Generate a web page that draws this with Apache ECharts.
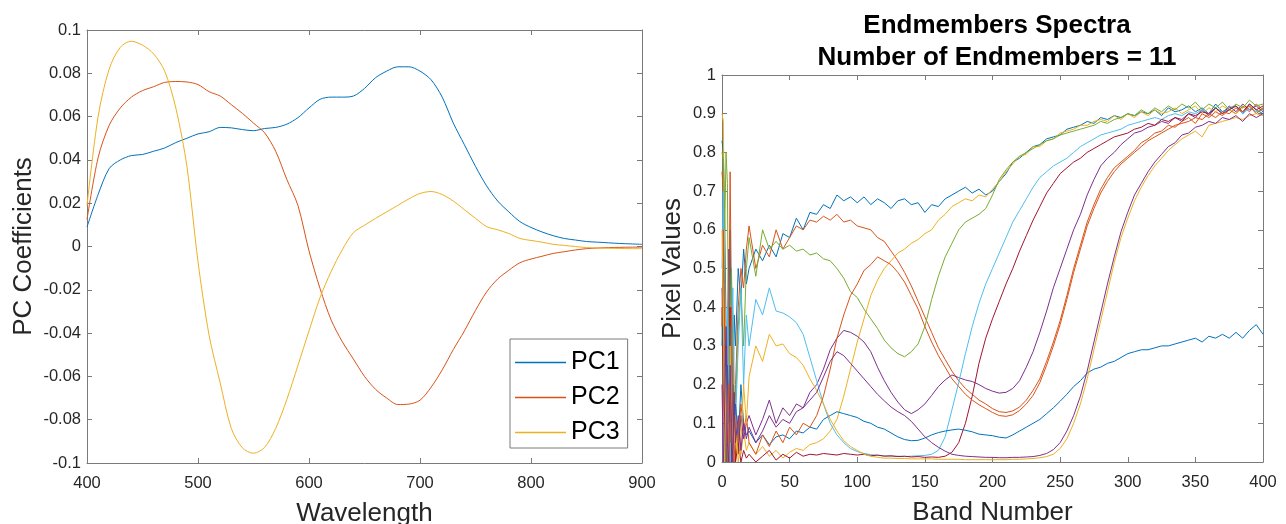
<!DOCTYPE html>
<html><head><meta charset="utf-8">
<script src="https://cdn.jsdelivr.net/npm/echarts@6/dist/echarts.min.js"></script>
<style>html,body{margin:0;padding:0;background:#fff}#c{width:1286px;height:524px}</style>
</head><body><div id="c"></div><script>
// ---------- Left panel: PC coefficients ----------
const wavelengths = [400,410,420,430,440,450,460,470,480,490,500,510,520,530,540,550,560,570,580,590,600,610,620,630,640,650,660,670,680,690,700,710,720,730,740,750,760,770,780,790,800,810,820,830,840,850,860,870,880,890,900];
const pc1 = [0.009,0.024,0.036,0.040,0.042,0.0425,0.044,0.0455,0.048,0.050,0.052,0.053,0.055,0.0548,0.054,0.0535,0.0545,0.055,0.0565,0.0595,0.064,0.068,0.069,0.069,0.0695,0.073,0.078,0.081,0.083,0.083,0.081,0.077,0.069,0.057,0.047,0.037,0.028,0.021,0.016,0.0115,0.0088,0.0067,0.005,0.0037,0.003,0.0023,0.002,0.0017,0.0014,0.0012,0.001];
const pc2 = [0.0125,0.041,0.056,0.064,0.069,0.072,0.0738,0.0758,0.0762,0.076,0.0748,0.0715,0.0695,0.0655,0.0615,0.057,0.0525,0.044,0.031,0.019,-0.002,-0.0195,-0.034,-0.044,-0.052,-0.06,-0.066,-0.070,-0.073,-0.0728,-0.071,-0.065,-0.057,-0.0476,-0.039,-0.0295,-0.021,-0.015,-0.011,-0.0075,-0.0058,-0.0045,-0.0032,-0.0024,-0.0016,-0.001,-0.0007,-0.0005,-0.0004,-0.0003,-0.0003];
const pc3 = [0.019,0.060,0.082,0.092,0.0948,0.093,0.089,0.081,0.064,0.037,-0.007,-0.041,-0.063,-0.084,-0.093,-0.0955,-0.0928,-0.084,-0.0707,-0.055,-0.039,-0.0235,-0.0115,-0.0015,0.0064,0.0098,0.013,0.016,0.019,0.022,0.0245,0.0254,0.024,0.021,0.017,0.013,0.0092,0.0077,0.006,0.0037,0.0028,0.002,0.001,0.0005,0,-0.0005,-0.0007,-0.0008,-0.0009,-0.001,-0.001];
const pcNames = ['PC1','PC2','PC3'];

// ---------- Right panel: endmember spectra ----------
const bands = [0,1,2,3,4,5,6,7,8,9,10,12,14,16,18,
  20,25,30,35,40,45,50,55,60,65,70,75,80,85,90,95,100,105,110,115,120,125,130,135,140,145,150,155,160,165,
  170,175,180,185,190,195,200,205,210,215,220,225,230,235,240,245,250,255,260,265,270,275,280,285,290,295,300,305,310,315,
  320,325,330,335,340,345,350,355,360,365,370,375,380,385,390,395,400];
const em1 = [0.83,0.8,0.62,0.35,0.15,0.45,0.6,0.25,0.1,0.38,0.3,0.5,0.42,0.55,0.46,
  0.50,0.55,0.52,0.56,0.53,0.59,0.58,0.63,0.60,0.645,
  0.64,0.665,0.655,0.69,0.675,0.685,0.67,0.685,0.665,0.68,
  0.67,0.655,0.675,0.68,0.665,0.67,0.645,0.665,0.66,0.68,
  0.69,0.70,0.71,0.695,0.705,0.69,0.70,0.725,0.745,0.775,
  0.785,0.80,0.815,0.82,0.835,0.84,0.845,0.86,0.865,0.87,
  0.88,0.875,0.89,0.885,0.895,0.89,0.90,0.895,0.905,0.90,
  0.91,0.895,0.915,0.905,0.91,0.92,0.905,0.915,0.9,0.925,
  0.905,0.915,0.92,0.9,0.925,0.91,0.9];
const em2 = [0.75,0.7,0.45,0.2,0.05,0.3,0.75,0.4,0.1,0.0,0.2,0.4,0.5,0.45,0.55,
  0.61,0.5,0.56,0.53,0.6,0.55,0.58,0.61,0.6,0.625,
  0.62,0.635,0.625,0.64,0.62,0.625,0.61,0.605,0.6,0.58,
  0.57,0.545,0.52,0.49,0.455,0.415,0.375,0.335,0.295,0.265,
  0.235,0.21,0.19,0.175,0.16,0.15,0.138,0.13,0.128,0.132,
  0.142,0.16,0.185,0.215,0.26,0.31,0.365,0.43,0.5,0.56,
  0.62,0.665,0.705,0.735,0.76,0.775,0.79,0.805,0.825,0.835,
  0.85,0.855,0.87,0.865,0.88,0.89,0.875,0.9,0.89,0.905,
  0.895,0.91,0.9,0.92,0.905,0.925,0.91];
const em3 = [0.9,0.88,0.5,0.1,0.0,0.05,0.2,0.0,0.15,0.05,0.0,0.1,0.02,0.08,0.03,
  0.05,0.02,0.04,0.015,0.03,0.01,0.025,0.035,0.03,0.045,
  0.05,0.06,0.08,0.11,0.17,0.24,0.31,0.37,0.43,0.47,
  0.5,0.52,0.54,0.55,0.565,0.575,0.59,0.6,0.625,0.64,
  0.66,0.67,0.68,0.675,0.69,0.685,0.705,0.725,0.75,0.77,
  0.79,0.795,0.815,0.815,0.83,0.835,0.85,0.855,0.86,0.87,
  0.87,0.88,0.885,0.88,0.895,0.885,0.9,0.89,0.905,0.895,
  0.91,0.9,0.905,0.915,0.9,0.91,0.92,0.9,0.915,0.905,
  0.92,0.91,0.9,0.915,0.92,0.905,0.915];
const em4 = [0.45,0.3,0.1,0.0,0.3,0.55,0.1,0.0,0.2,0.05,0.15,0.02,0.12,0.06,0.1,
  0.12,0.07,0.11,0.16,0.1,0.14,0.12,0.15,0.14,0.18,
  0.2,0.24,0.29,0.32,0.34,0.335,0.325,0.31,0.285,0.245,
  0.21,0.18,0.155,0.135,0.125,0.135,0.15,0.172,0.195,0.212,
  0.225,0.218,0.212,0.208,0.2,0.19,0.183,0.178,0.18,0.19,
  0.21,0.245,0.285,0.335,0.39,0.45,0.5,0.55,0.6,0.64,
  0.69,0.73,0.765,0.785,0.8,0.82,0.835,0.85,0.855,0.865,
  0.87,0.88,0.875,0.89,0.88,0.9,0.89,0.91,0.895,0.915,
  0.9,0.92,0.905,0.925,0.91,0.92,0.905];
const em5 = [0.8,0.78,0.6,0.8,0.72,0.2,0.0,0.5,0.3,0.05,0.15,0.35,0.45,0.3,0.5,
  0.58,0.48,0.6,0.55,0.57,0.55,0.56,0.545,0.55,0.535,
  0.54,0.525,0.52,0.5,0.475,0.44,0.425,0.395,0.37,0.345,
  0.315,0.295,0.28,0.272,0.285,0.305,0.35,0.42,0.48,0.53,
  0.565,0.6,0.62,0.63,0.64,0.655,0.69,0.73,0.755,0.775,
  0.79,0.8,0.81,0.82,0.83,0.835,0.845,0.85,0.855,0.86,
  0.865,0.87,0.88,0.875,0.885,0.89,0.9,0.895,0.91,0.9,
  0.915,0.905,0.92,0.91,0.925,0.915,0.93,0.91,0.925,0.915,
  0.93,0.91,0.925,0.915,0.935,0.92,0.925];
const em6 = [0.5,0.7,0.3,0.05,0.4,0.15,0.0,0.3,0.45,0.2,0.1,0.3,0.45,0.2,0.38,
  0.3,0.42,0.38,0.45,0.39,0.385,0.375,0.36,0.33,0.27,
  0.21,0.15,0.1,0.07,0.05,0.035,0.027,0.022,0.019,0.017,
  0.016,0.015,0.015,0.014,0.015,0.016,0.017,0.02,0.03,0.065,
  0.135,0.205,0.28,0.35,0.41,0.46,0.5,0.54,0.58,0.62,
  0.65,0.68,0.71,0.735,0.75,0.765,0.775,0.785,0.8,0.815,
  0.825,0.835,0.845,0.85,0.855,0.86,0.87,0.875,0.88,0.885,
  0.89,0.885,0.895,0.9,0.895,0.905,0.9,0.91,0.9,0.915,
  0.905,0.91,0.92,0.9,0.915,0.905,0.91];
const em7 = [0.4,0.2,0.0,0.3,0.1,0.0,0.4,0.05,0.0,0.15,0.0,0.05,0.0,0.03,0.01,
  0.02,0.0,0.015,0.03,0.005,0.02,0.01,0.025,0.015,0.02,
  0.018,0.022,0.02,0.018,0.022,0.02,0.018,0.02,0.016,0.018,
  0.015,0.016,0.014,0.015,0.013,0.014,0.012,0.013,0.012,0.015,
  0.025,0.05,0.1,0.17,0.255,0.32,0.37,0.415,0.46,0.5,
  0.545,0.585,0.625,0.66,0.695,0.72,0.745,0.76,0.775,0.785,
  0.8,0.81,0.82,0.83,0.84,0.845,0.85,0.86,0.865,0.875,
  0.87,0.885,0.88,0.89,0.885,0.9,0.895,0.905,0.9,0.915,
  0.9,0.91,0.92,0.905,0.925,0.91,0.92];
const em8 = [0.3,0.55,0.2,0.0,0.25,0.1,0.35,0.05,0.2,0.1,0.15,0.05,0.2,0.1,0.07,
  0.08,0.05,0.07,0.045,0.065,0.07,0.06,0.08,0.075,0.09,
  0.085,0.11,0.12,0.13,0.125,0.12,0.115,0.105,0.1,0.09,
  0.085,0.075,0.065,0.058,0.055,0.056,0.062,0.07,0.076,0.08,
  0.083,0.085,0.082,0.078,0.072,0.07,0.068,0.064,0.062,0.07,
  0.08,0.09,0.1,0.11,0.125,0.14,0.157,0.175,0.195,0.21,
  0.23,0.24,0.245,0.255,0.26,0.27,0.28,0.285,0.29,0.29,
  0.295,0.3,0.3,0.305,0.31,0.315,0.32,0.31,0.325,0.32,
  0.33,0.32,0.335,0.32,0.34,0.355,0.33];
const em9 = [0.35,0.6,0.3,0.1,0.0,0.2,0.05,0.4,0.15,0.02,0.1,0.05,0.15,0.08,0.12,
  0.05,0.02,0.07,0.04,0.08,0.05,0.09,0.07,0.1,0.09,
  0.12,0.17,0.24,0.32,0.38,0.43,0.46,0.495,0.51,0.53,
  0.52,0.51,0.49,0.465,0.43,0.395,0.35,0.31,0.275,0.245,
  0.215,0.195,0.175,0.16,0.148,0.138,0.128,0.12,0.118,0.122,
  0.133,0.15,0.172,0.205,0.25,0.3,0.355,0.42,0.49,0.55,
  0.61,0.655,0.695,0.725,0.75,0.77,0.785,0.8,0.815,0.83,
  0.84,0.85,0.86,0.87,0.875,0.88,0.89,0.885,0.9,0.89,
  0.905,0.9,0.915,0.905,0.92,0.9,0.915];
const em10 = [0.6,0.4,0.0,0.25,0.1,0.0,0.3,0.15,0.0,0.05,0.12,0.0,0.05,0.2,0.1,
  0.22,0.3,0.26,0.33,0.3,0.305,0.28,0.27,0.25,0.215,
  0.185,0.15,0.11,0.08,0.055,0.04,0.03,0.02,0.015,0.012,
  0.01,0.01,0.009,0.009,0.008,0.008,0.008,0.008,0.007,0.007,
  0.007,0.007,0.006,0.006,0.006,0.006,0.006,0.006,0.006,0.007,
  0.007,0.008,0.009,0.011,0.014,0.02,0.035,0.06,0.1,0.15,
  0.215,0.29,0.365,0.44,0.515,0.58,0.63,0.675,0.71,0.74,
  0.765,0.785,0.805,0.82,0.835,0.845,0.855,0.84,0.87,0.875,
  0.88,0.885,0.89,0.885,0.895,0.9,0.895];
const em11 = [0.2,0.0,0.15,0.35,0.05,0.0,0.25,0.1,0.0,0.18,0.05,0.12,0.03,0.1,0.06,
  0.09,0.05,0.08,0.12,0.09,0.11,0.1,0.13,0.14,0.16,
  0.18,0.22,0.26,0.285,0.275,0.255,0.235,0.215,0.195,0.175,
  0.158,0.142,0.13,0.12,0.105,0.085,0.065,0.05,0.038,0.028,
  0.02,0.017,0.015,0.014,0.013,0.012,0.012,0.011,0.011,0.012,
  0.012,0.013,0.014,0.017,0.022,0.032,0.05,0.08,0.12,0.17,
  0.235,0.31,0.385,0.46,0.53,0.595,0.645,0.69,0.72,0.75,
  0.775,0.795,0.815,0.825,0.845,0.85,0.865,0.87,0.88,0.875,
  0.89,0.885,0.895,0.88,0.9,0.89,0.9];
const endmembers = [em1,em2,em3,em4,em5,em6,em7,em8,em9,em10,em11];
const emColors = ['#0072BD','#D95319','#EDB120','#7E2F8E','#77AC30','#4DBEEE','#A2142F','#0072BD','#D95319','#EDB120','#7E2F8E'];
const pcColors = ['#0072BD','#D95319','#EDB120'];

const FONT = '"Liberation Sans", Arial, Helvetica, sans-serif';
const axisCol = '#7a7a7a';
const txtCol = '#262626';

function axis(dim, gridIndex, pos, min, max, interval, labels, name, nameGap, labelMargin) {
  const a = {
    type: 'value', gridIndex, position: pos, min, max, interval,
    axisLine: { show: true, onZero: false, lineStyle: { color: axisCol, width: 1 } },
    axisTick: { show: true, inside: true, length: 5, lineStyle: { color: axisCol, width: 1 } },
    axisLabel: { show: labels, color: txtCol, fontSize: 16.5, fontFamily: FONT, margin: labelMargin },
    splitLine: { show: false }
  };
  if (name) {
    a.name = name; a.nameLocation = 'middle'; a.nameGap = nameGap;
    a.nameTextStyle = { fontSize: 26, color: txtCol, fontFamily: FONT };
    if (dim === 'y') a.nameRotate = 90;
  }
  return a;
}

const series = [];
[pc1, pc2, pc3].forEach((arr, k) => {
  series.push({
    name: pcNames[k], type: 'line', xAxisIndex: 0, yAxisIndex: 0,
    data: wavelengths.map((w, i) => [w, arr[i]]),
    symbol: 'none', smooth: 0.3,
    lineStyle: { color: pcColors[k], width: 1 }, itemStyle: { color: pcColors[k] }
  });
});
endmembers.forEach((arr, k) => {
  series.push({
    name: 'EM' + (k + 1), type: 'line', xAxisIndex: 2, yAxisIndex: 2,
    data: bands.map((b, i) => [b, arr[i]]),
    symbol: 'none',
    lineStyle: { color: emColors[k], width: 1 }, itemStyle: { color: emColors[k] }
  });
});

const chart = echarts.init(document.getElementById('c'), null, { renderer: 'canvas' });
chart.setOption({
  animation: false,
  backgroundColor: '#fff',
  title: {
    text: 'Endmembers Spectra\nNumber of Endmembers = 11',
    left: 992, top: 5, textAlign: 'center',
    textStyle: { fontSize: 26, fontWeight: 'bold', color: '#000', fontFamily: FONT, lineHeight: 32 }
  },
  legend: {
    data: pcNames.map(n => ({ name: n, icon: 'rect' })),
    orient: 'vertical', left: 510, top: 339,
    itemWidth: 51, itemHeight: 1.5, itemGap: 10, padding: [11, 8, 3, 5],
    borderColor: axisCol, borderWidth: 1, backgroundColor: '#fff', selectedMode: false,
    textStyle: { fontSize: 25, color: '#000', fontFamily: FONT }
  },
  grid: [
    { left: 87, top: 30, width: 555, height: 433, containLabel: false, outerBoundsMode: 'none' },
    { left: 722, top: 75, width: 541, height: 387, containLabel: false, outerBoundsMode: 'none' }
  ],
  xAxis: [
    axis('x', 0, 'bottom', 400, 900, 100, true, 'Wavelength', 38, 12),
    axis('x', 0, 'top', 400, 900, 100, false),
    axis('x', 1, 'bottom', 0, 400, 50, true, 'Band Number', 38, 12),
    axis('x', 1, 'top', 0, 400, 50, false)
  ],
  yAxis: [
    axis('y', 0, 'left', -0.1, 0.1, 0.02, true, 'PC Coefficients', 50, 6),
    axis('y', 0, 'right', -0.1, 0.1, 0.02, false),
    axis('y', 1, 'left', 0, 1, 0.1, true, 'Pixel Values', 36, 6),
    axis('y', 1, 'right', 0, 1, 0.1, false)
  ],
  series
});
</script></body></html>
